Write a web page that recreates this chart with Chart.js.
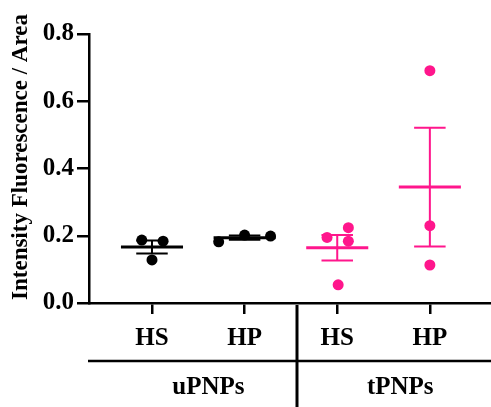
<!DOCTYPE html>
<html>
<head>
<meta charset="utf-8">
<script src="https://cdn.jsdelivr.net/npm/chart.js@4.4.0/dist/chart.umd.min.js"></script>
<style>
html,body{margin:0;padding:0;background:#fff;}
#wrap{width:491px;height:407px;position:relative;}
</style>
</head>
<body>
<div id="wrap"><canvas id="c" width="491" height="407"></canvas></div>
<script>
// ---- data ----
const categories = ["HS", "HP", "HS", "HP"];
const groups = ["uPNPs", "tPNPs"];
const yTitle = "Intensity Fluorescence / Area";
const uHS = [0.187, 0.184, 0.128];
const uHP = [0.182, 0.202, 0.199];
const tHS = [0.195, 0.224, 0.184, 0.054];
const tHP = [0.691, 0.230, 0.113];
const uHSjitter = [-0.11, 0.12, 0.0];
const uHPjitter = [-0.28, 0.0, 0.28];
const tHSjitter = [-0.11, 0.12, 0.12, 0.01];
const tHPjitter = [0, 0, 0];
const yTicks = [0, 0.2, 0.4, 0.6, 0.8];

const BLACK = "#000000";
const PINK = "#ff168c";
const FONT = "'Liberation Serif', 'Times New Roman', serif";

function pts(vals, jit, xc) {
  return vals.map((v, i) => ({x: xc + jit[i], y: v}));
}
function stats(vals) {
  const n = vals.length;
  const m = vals.reduce((a, b) => a + b, 0) / n;
  const sd = Math.sqrt(vals.reduce((a, b) => a + (b - m) * (b - m), 0) / (n - 1));
  return {mean: m, sem: sd / Math.sqrt(n)};
}
const seriesList = [
  {vals: uHS, jit: uHSjitter, x: 1, color: BLACK},
  {vals: uHP, jit: uHPjitter, x: 2, color: BLACK},
  {vals: tHS, jit: tHSjitter, x: 3, color: PINK},
  {vals: tHP, jit: tHPjitter, x: 4, color: PINK}
];

const errPlugin = {
  id: 'errPlugin',
  afterDatasetsDraw(chart) {
    const ctx = chart.ctx;
    const xs = chart.scales.x, ys = chart.scales.y;
    ctx.save();
    seriesList.forEach(s => {
      const st = stats(s.vals);
      const yM = ys.getPixelForValue(st.mean);
      const yU = ys.getPixelForValue(st.mean + st.sem);
      const yL = ys.getPixelForValue(st.mean - st.sem);
      const xc = xs.getPixelForValue(s.x);
      const mw = xs.getPixelForValue(s.x + 0.335) - xc;
      const cw = xs.getPixelForValue(s.x + 0.17) - xc;
      ctx.strokeStyle = s.color;
      ctx.lineCap = 'butt';
      ctx.lineWidth = 2;
      ctx.beginPath();
      ctx.moveTo(xc, yU); ctx.lineTo(xc, yL);
      ctx.moveTo(xc - cw, yU); ctx.lineTo(xc + cw, yU);
      ctx.moveTo(xc - cw, yL); ctx.lineTo(xc + cw, yL);
      ctx.stroke();
      ctx.lineWidth = 3;
      ctx.beginPath();
      ctx.moveTo(xc - mw, yM); ctx.lineTo(xc + mw, yM);
      ctx.stroke();
    });
    ctx.restore();
  },
  afterDraw(chart) {
    const ctx = chart.ctx;
    const xs = chart.scales.x;
    const H = chart.height, W = chart.width;
    ctx.save();
    ctx.strokeStyle = BLACK;
    ctx.lineWidth = 2.5;
    ctx.beginPath();
    ctx.moveTo(chart.chartArea.left - 1, 361);
    ctx.lineTo(W, 361);
    ctx.stroke();
    const sx = Math.round(xs.getPixelForValue(2.565));
    ctx.lineWidth = 3;
    ctx.beginPath();
    ctx.moveTo(sx, 305);
    ctx.lineTo(sx, H);
    ctx.stroke();
    ctx.fillStyle = BLACK;
    ctx.font = "bold 25px " + FONT;
    ctx.textAlign = 'center';
    ctx.textBaseline = 'middle';
    ctx.fillText(groups[0], xs.getPixelForValue(1.61), 388);
    ctx.fillText(groups[1], xs.getPixelForValue(3.68), 388);
    // y axis title
    ctx.save();
    ctx.translate(21, 157);
    ctx.rotate(-Math.PI / 2);
    ctx.font = "bold 23px " + FONT;
    ctx.fillText(yTitle, 0, 0);
    ctx.restore();
    ctx.restore();
  }
};

const datasets = seriesList.map(s => ({
  data: pts(s.vals, s.jit, s.x),
  backgroundColor: s.color,
  borderColor: s.color,
  pointRadius: 5.5,
  pointHoverRadius: 5.5,
  borderWidth: 0
}));

new Chart(document.getElementById('c'), {
  type: 'scatter',
  data: {datasets},
  options: {
    responsive: false,
    animation: false,
    events: [],
    layout: {autoPadding: false, padding: {top: 34, right: 0, left: 0, bottom: 0}},
    plugins: {legend: {display: false}, tooltip: {enabled: false}},
    scales: {
      x: {
        type: 'linear',
        min: 0.32, max: 4.66,
        afterBuildTicks(scale) { scale.ticks = [1, 2, 3, 4].map(v => ({value: v})); },
        afterFit(scale) { scale.height = 104; scale.paddingLeft = 0; scale.paddingRight = 0; },
        ticks: {
          color: BLACK,
          font: {family: FONT, size: 25, weight: 'bold'},
          padding: 10,
          maxRotation: 0,
          autoSkip: false,
          callback: (v) => categories[v - 1]
        },
        grid: {drawOnChartArea: false, drawTicks: true, tickLength: 11, color: BLACK, lineWidth: 2.5},
        border: {display: true, color: BLACK, width: 2.5}
      },
      y: {
        min: 0, max: 0.8,
        afterBuildTicks(scale) { scale.ticks = yTicks.map(v => ({value: v})); },
        afterFit(scale) { scale.width = 89; scale.paddingTop = 0; scale.paddingBottom = 0; },
        ticks: {
          color: BLACK,
          font: {family: FONT, size: 25, weight: 'bold'},
          padding: 3,
          callback: (v) => v.toFixed(1)
        },
        grid: {drawOnChartArea: false, drawTicks: true, tickLength: 12, color: BLACK, lineWidth: 2.5},
        border: {display: true, color: BLACK, width: 2.5}
      }
    }
  },
  plugins: [errPlugin]
});
</script>
</body>
</html>
